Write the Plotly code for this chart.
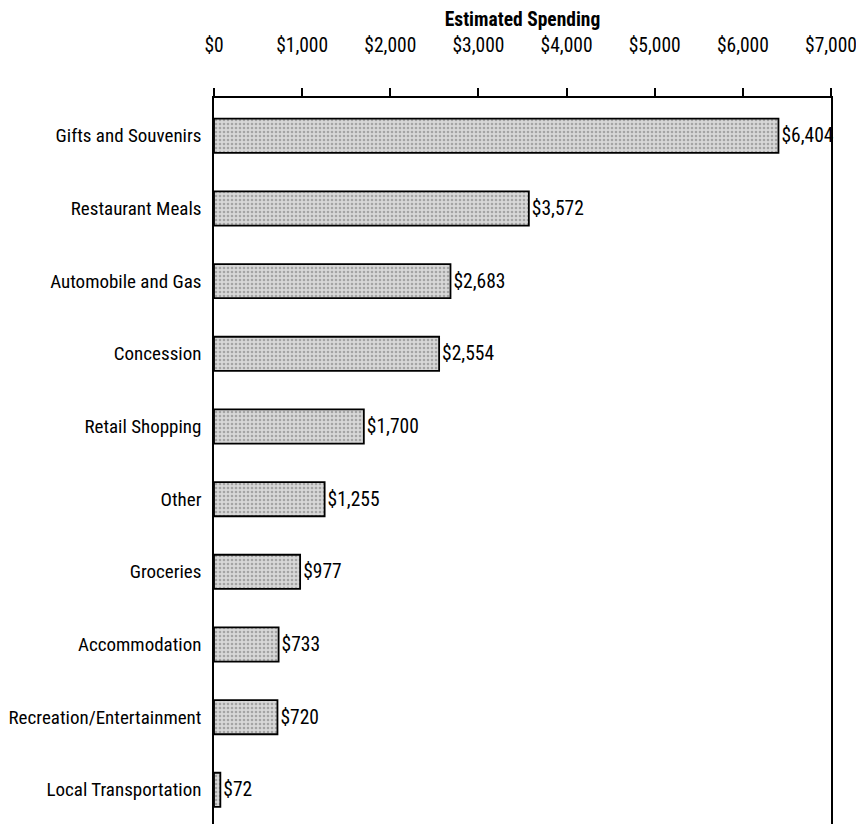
import plotly.graph_objects as go

categories = ["Gifts and Souvenirs", "Restaurant Meals", "Automobile and Gas", "Concession",
              "Retail Shopping", "Other", "Groceries", "Accommodation",
              "Recreation/Entertainment", "Local Transportation"]
values = [6404, 3572, 2683, 2554, 1700, 1255, 977, 733, 720, 72]
tick_vals = [0, 1000, 2000, 3000, 4000, 5000, 6000, 7000]
tick_text = ["$0", "$1,000", "$2,000", "$3,000", "$4,000", "$5,000", "$6,000", "$7,000"]

FONT = "Roboto Condensed, Liberation Sans Narrow, Arial Narrow, sans-serif"

fig = go.Figure(go.Bar(
    x=values, y=categories, orientation="h",
    width=0.47,
    marker=dict(color="#d4d4d4", line=dict(color="black", width=1.8),
                pattern=dict(shape=".", fgcolor="#707070", bgcolor="#d8d8d8", size=4, solidity=0.35)),
    text=["$" + f"{v:,}" for v in values], textposition="outside",
    textfont=dict(family=FONT, size=19.5, color="black"),
    constraintext="none",
    cliponaxis=False,
))

fig.update_layout(
    width=856, height=816,
    margin=dict(l=206, r=33, t=90, b=0),
    paper_bgcolor="white", plot_bgcolor="white",
    showlegend=False,
    font=dict(family=FONT, size=19.5, color="black"),
    xaxis=dict(side="top", range=[0, 7000], tickvals=tick_vals, ticktext=tick_text,
               showgrid=False, zeroline=False, showline=True, linecolor="black", linewidth=1.5,
               ticks="outside", ticklen=8, tickcolor="black", tickwidth=1.5,
               ticklabelstandoff=28, automargin=False,
               title=dict(text="<b>Estimated Spending</b>", standoff=12, font=dict(family=FONT, size=19.5))),
    yaxis=dict(categoryorder="array", categoryarray=categories, autorange=False,
               range=[9.47, -0.52], showgrid=False, zeroline=False,
               showline=True, mirror=True, linecolor="black", linewidth=1.5,
               ticks="", ticklabelstandoff=7, automargin=False,
               tickfont=dict(family=FONT, size=19, color="black")),
)

fig.write_html("out.html")
